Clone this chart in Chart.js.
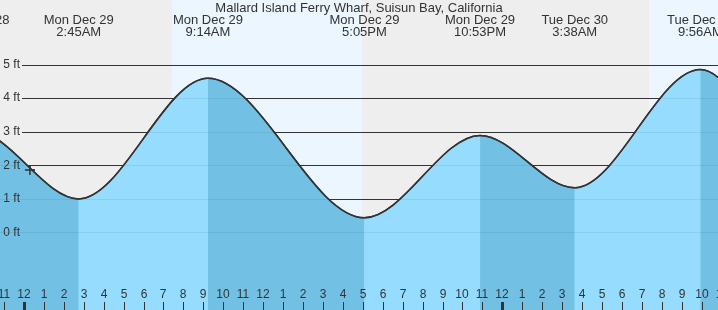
<!DOCTYPE html>
<html>
<head>
<meta charset="utf-8">
<script src="https://cdn.jsdelivr.net/npm/chart.js@4.4.1/dist/chart.umd.min.js"></script>
<style>
  html, body { margin: 0; padding: 0; background: #fff; }
  canvas { display: block; }
</style>
</head>
<body>
<canvas id="grafico" width="718" height="310"></canvas>
<script>
// horas contadas a partir de Mon Dec 29 00:00 (o primeiro e o último ficam fora da imagem)
const tideHours = [-8.6, -2.43, 2.75, 9.233, 17.083, 22.883, 27.633, 33.933, 40.3, 46.5];
const tideFeet = [0.6, 3.0, 1.0, 4.59, 0.44, 2.89, 1.33, 4.85, 0.5, 3.0];
const extremeLine1 = ['Sun Dec 28', 'Sun Dec 28', 'Mon Dec 29', 'Mon Dec 29', 'Mon Dec 29', 'Mon Dec 29', 'Tue Dec 30', 'Tue Dec 30', 'Tue Dec 30', 'Tue Dec 30'];
const extremeLine2 = ['3:24PM', '9:34PM', '2:45AM', '9:14AM', '5:05PM', '10:53PM', '3:38AM', '9:56AM', '4:18PM', '10:30PM'];

const dayStart = [7.43, 31.36];
const dayEnd = [16.96, 41.0];

const feetTicks = [0, 1, 2, 3, 4, 5];
const feetLabels = ['0 ft', '1 ft', '2 ft', '3 ft', '4 ft', '5 ft'];

const hourTicks = [-1, 0, 1, 2, 3, 4, 5, 6, 7, 8, 9, 10, 11, 12, 13, 14, 15, 16, 17, 18, 19, 20, 21, 22, 23,
                   24, 25, 26, 27, 28, 29, 30, 31, 32, 33, 34, 35];
const hourLabels = ['11', '12', '1', '2', '3', '4', '5', '6', '7', '8', '9', '10', '11', '12', '1', '2', '3', '4', '5', '6', '7', '8', '9', '10', '11',
                    '12', '1', '2', '3', '4', '5', '6', '7', '8', '9', '10', '11'];

const agoraHora = [0.3];
const agoraPes = [1.86];

const titulo = 'Mallard Island Ferry Wharf, Suisun Bay, California';

const FONTE_TOPO = '13px "Liberation Sans", Arial, sans-serif';
const FONTE = '12px "Liberation Sans", Arial, sans-serif';
const corTexto = '#333';

const escuro = '#72c1e4';
const claro = '#96dcff';

// curva montada com os pontos de controle que o Chart.js calculou
function tracarCurva(chart, ctx) {
    const pts = chart.getDatasetMeta(0).data;
    ctx.moveTo(pts[0].x, pts[0].y);
    for (let i = 1; i < pts.length; i++) {
        const a = pts[i - 1];
        const b = pts[i];
        ctx.bezierCurveTo(a.cp2x, a.cp2y, b.cp1x, b.cp1y, b.x, b.y);
    }
}

function caminhoAgua(chart, ctx) {
    const pts = chart.getDatasetMeta(0).data;
    ctx.beginPath();
    tracarCurva(chart, ctx);
    ctx.lineTo(pts[pts.length - 1].x, chart.height + 5);
    ctx.lineTo(pts[0].x, chart.height + 5);
    ctx.closePath();
}

// fundo noite/dia, linhas e textos
const fundoPlugin = {
    id: 'fundo',
    beforeDraw(chart) {
        const ctx = chart.ctx;
        const x = chart.scales.x;
        ctx.save();
        ctx.fillStyle = '#eeeeee';
        ctx.fillRect(0, 0, chart.width, chart.height);
        ctx.fillStyle = '#ebf6ff';
        for (let i = 0; i < dayStart.length; i++) {
            const x0 = x.getPixelForValue(dayStart[i]);
            const x1 = x.getPixelForValue(dayEnd[i]);
            ctx.fillRect(x0, 0, x1 - x0, chart.height);
        }
        ctx.restore();
    },
    beforeDatasetsDraw(chart) {
        const ctx = chart.ctx;
        const y = chart.scales.y;
        ctx.save();
        ctx.strokeStyle = '#333';
        ctx.lineWidth = 1;
        feetTicks.forEach((v) => {
            const py = Math.round(y.getPixelForValue(v)) + 0.5;
            ctx.beginPath();
            ctx.moveTo(22, py);
            ctx.lineTo(chart.width, py);
            ctx.stroke();
        });
        // base clara para não aparecer emenda entre os trechos
        caminhoAgua(chart, ctx);
        ctx.fillStyle = claro;
        ctx.fill();
        ctx.restore();
    },
    afterDatasetsDraw(chart) {
        const ctx = chart.ctx;
        const x = chart.scales.x;
        const y = chart.scales.y;

        // linhas fracas dentro da água
        ctx.save();
        caminhoAgua(chart, ctx);
        ctx.clip();
        ctx.strokeStyle = 'rgba(0,40,80,0.08)';
        ctx.lineWidth = 1;
        feetTicks.forEach((v) => {
            const py = Math.round(y.getPixelForValue(v)) + 0.5;
            ctx.beginPath();
            ctx.moveTo(0, py);
            ctx.lineTo(chart.width, py);
            ctx.stroke();
        });
        ctx.restore();

        // redesenha a curva por cima
        ctx.save();
        ctx.beginPath();
        tracarCurva(chart, ctx);
        ctx.strokeStyle = '#333';
        ctx.lineWidth = 1.5;
        ctx.stroke();
        ctx.restore();

        // marcador "agora" por cima de tudo
        chart.getDatasetMeta(1).data.forEach((p) => p.draw(ctx));

        ctx.save();
        ctx.fillStyle = corTexto;

        // rótulos dos pés
        ctx.font = FONTE;
        ctx.textAlign = 'right';
        ctx.textBaseline = 'middle';
        feetTicks.forEach((v, i) => {
            ctx.fillText(feetLabels[i], 20, y.getPixelForValue(v));
        });

        // título e horários dos extremos
        ctx.font = FONTE_TOPO;
        ctx.textAlign = 'center';
        ctx.fillText(titulo, chart.width / 2, 8);
        tideHours.forEach((h, i) => {
            const px = x.getPixelForValue(h);
            ctx.fillText(extremeLine1[i], px, 20);
            ctx.fillText(extremeLine2[i], px, 32);
        });

        // eixo das horas
        ctx.font = FONTE;
        hourTicks.forEach((h, i) => {
            const px = Math.round(x.getPixelForValue(h));
            ctx.fillText(hourLabels[i], px, 295);
            if (h % 24 === 0) {
                ctx.fillRect(px - 1, 302, 3, 8);
            } else {
                ctx.fillRect(px, 302, 1, 8);
            }
        });
        ctx.restore();
    }
};

const ctx = document.getElementById('grafico').getContext('2d');
const grafico = new Chart(ctx, {
    type: 'line',
    data: {
        datasets: [
            {
                data: tideHours.map((h, i) => ({ x: h, y: tideFeet[i] })),
                borderColor: '#333',
                borderWidth: 1.5,
                pointRadius: 0,
                cubicInterpolationMode: 'monotone',
                fill: 'start',
                backgroundColor: claro,
                segment: {
                    // maré vazante mais escura
                    backgroundColor: (c) => c.p0.parsed.y > c.p1.parsed.y ? escuro : claro,
                },
            },
            {
                type: 'scatter',
                data: agoraHora.map((h, i) => ({ x: h, y: agoraPes[i] })),
                pointStyle: 'cross',
                pointRadius: 5,
                borderColor: '#333',
                borderWidth: 1.5,
                showLine: false,
            },
        ],
    },
    options: {
        responsive: false,
        animation: false,
        devicePixelRatio: 1,
        layout: { padding: 0, autoPadding: false },
        plugins: {
            legend: { display: false },
            tooltip: { enabled: false },
        },
        scales: {
            x: { type: 'linear', min: -1.2, max: 34.82, display: false },
            y: { min: -2.307, max: 6.92, display: false },
        },
    },
    plugins: [fundoPlugin],
});
</script>
</body>
</html>
